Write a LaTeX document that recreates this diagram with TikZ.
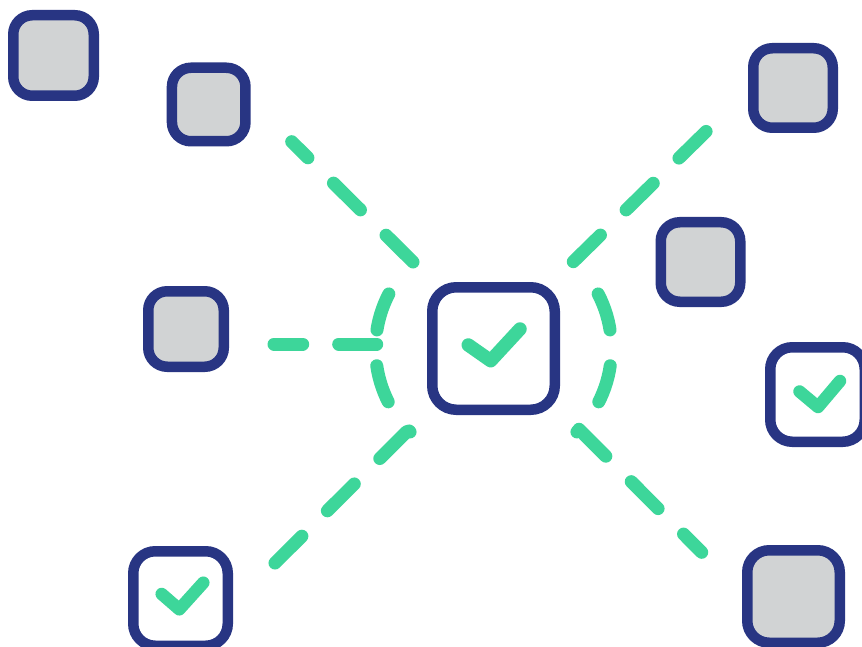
\documentclass[tikz,border=0pt]{standalone}
\definecolor{navy}{RGB}{40,53,131}
\definecolor{mint}{RGB}{61,214,154}
\definecolor{tilegray}{RGB}{209,211,212}
\begin{document}
\begin{tikzpicture}[x=1pt,y=-1pt,
  tile/.style={draw=navy, line width=10.5pt, fill=tilegray, rounded corners=19pt,
    inner sep=0pt, outer sep=0pt, minimum size=#1},
  checkbox/.style={tile=#1, fill=white},
  tick/.style={draw=mint, line width=13.5pt, line cap=round, line join=round},
  link/.style={draw=mint, line width=13pt, line cap=round, dash pattern=on 38pt off 36pt},
  ring/.style={link, dash phase=38pt}]
\useasboundingbox (0,0) rectangle (862,647);
\fill[white] (0,0) rectangle (862,647);
\clip (0,0) rectangle (862,647);

% nodes
\node[tile=80.5pt] (tl) at (53.5,55.5) {};
\node[tile=73.5pt] (tl2) at (208.7,104.5) {};
\node[tile=75.5pt] (lf) at (186,329) {};
\node[tile=79.5pt] (tr) at (793,88) {};
\node[tile=79.5pt] (mr) at (700.5,262) {};
\node[checkbox=94.5pt, rounded corners=22pt] (rc) at (817.5,394.5) {};
\node[tile=92.5pt, rounded corners=22pt] (br) at (793.5,596.5) {};
\node[checkbox=94.5pt, rounded corners=22pt] (bl) at (180.5,598.5) {};
\node[checkbox=122.5pt, rounded corners=24pt] (c) at (493.5,348.5) {};

% connector end points
\coordinate (tlA) at (413,262);    \coordinate (tlB) at (291.7,141.7);
\coordinate (trA) at (573.3,261.7); \coordinate (trB) at (708.3,129.3);
\coordinate (brA) at (579,429.3);  \coordinate (brB) at (701.7,552.3);
\coordinate (blA) at (406.7,431.7); \coordinate (blB) at (274,564);
\coordinate (lfA) at (376.7,344);  \coordinate (lfB) at (274,344);

% dashed connectors
\draw[link] (tlA) -- (tlB);
\draw[link] (trA) -- (trB);
\draw[link] (brA) -- (brB);
\draw[link] (blA) -- (blB);
\draw[link] (lfA) -- (lfB);
\draw[ring] (c.center) ++(225:118) arc[start angle=225, end angle=135, radius=118];
\draw[ring] (c.center) ++(-45:118) arc[start angle=-45, end angle=45, radius=118];

% check marks
\draw[tick] ([shift={(-25.2,-3.5)}]c.center) -- ([shift={(-2.8,12.2)}]c.center) -- ([shift={(26.5,-19.5)}]c.center);
\draw[tick, line width=12.5pt] ([shift={(-18,-3)}]rc.center) -- ([shift={(0.5,12.5)}]rc.center) -- ([shift={(22.5,-13.5)}]rc.center);
\draw[tick, line width=12.5pt] ([shift={(-18.8,-4.5)}]bl.center) -- ([shift={(-1.2,10.8)}]bl.center) -- ([shift={(22.8,-15.8)}]bl.center);
\end{tikzpicture}
\end{document}
